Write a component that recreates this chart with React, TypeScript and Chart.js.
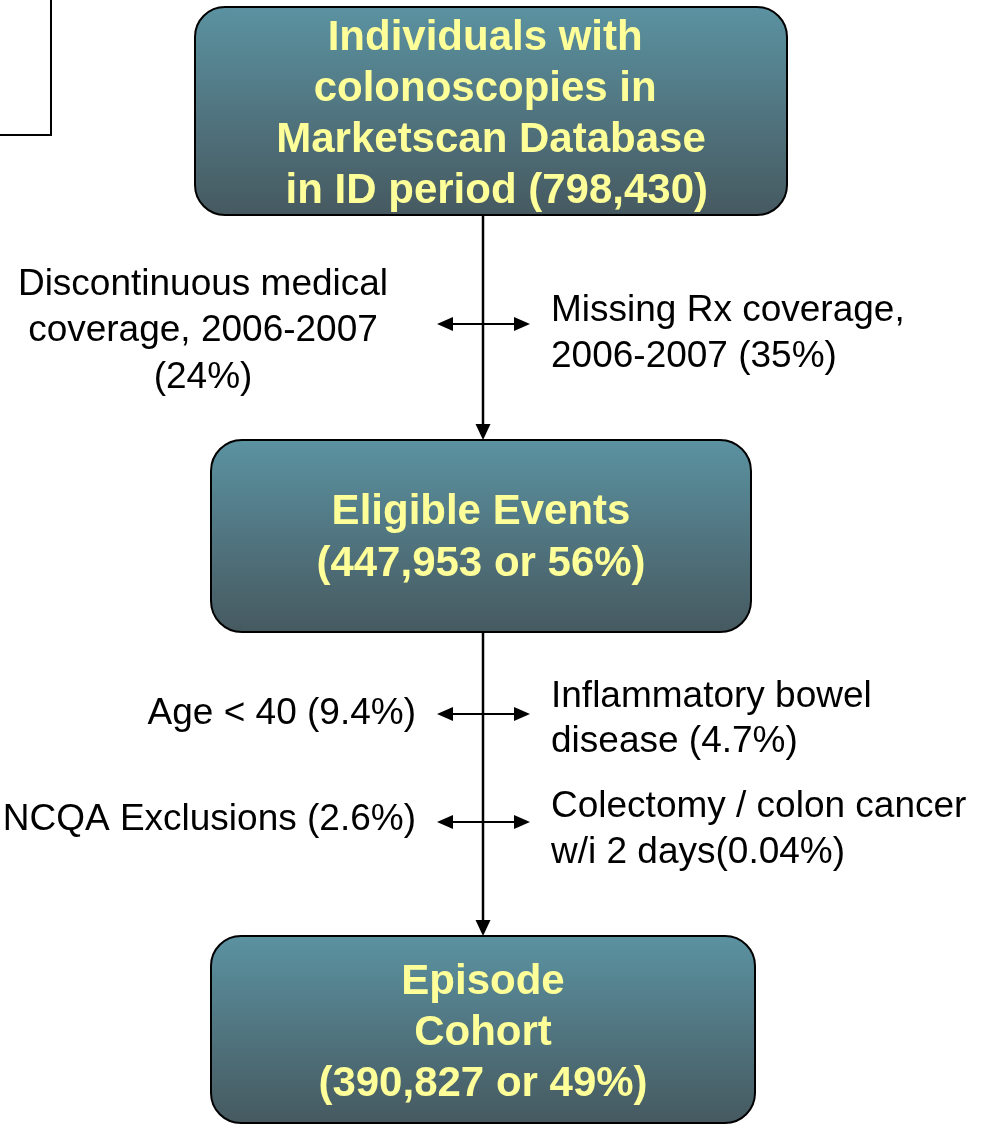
import React, { useEffect, useRef } from "react";
import { Chart, registerables } from "chart.js";

Chart.register(...registerables);

// ---- Data ----
const stageCounts = [798430, 447953, 390827];
const stagePercents = [null, 56, 49];
const exclusionNames = [
  "Discontinuous medical coverage, 2006-2007",
  "Missing Rx coverage, 2006-2007",
  "Age < 40",
  "Inflammatory bowel disease",
  "NCQA Exclusions",
  "Colectomy / colon cancer w/i 2 days",
];
const exclusionPercents = ["24%", "35%", "9.4%", "4.7%", "2.6%", "0.04%"];

const fmt = (n: number) => n.toLocaleString("en-US");

// ---- Text lines built from data ----
const stageLines: string[][] = [
  ["Individuals with ", "colonoscopies in ", "Marketscan Database", ` in ID period (${fmt(stageCounts[0])})`],
  ["Eligible Events", `(${fmt(stageCounts[1])} or ${stagePercents[1]}%)`],
  ["Episode", "Cohort", `(${fmt(stageCounts[2])} or ${stagePercents[2]}%)`],
];
const exclusionLines: string[][] = [
  ["Discontinuous medical", "coverage, 2006-2007", `(${exclusionPercents[0]})`],
  ["Missing Rx coverage,", `2006-2007 (${exclusionPercents[1]})`],
  [`${exclusionNames[2]} (${exclusionPercents[2]})`],
  ["Inflammatory bowel", `disease (${exclusionPercents[3]})`],
  [`${exclusionNames[4]} (${exclusionPercents[4]})`],
  ["Colectomy / colon cancer", `w/i 2 days(${exclusionPercents[5]})`],
];

// ---- Layout (chart units) ----
const boxLayout = [
  { x0: 195, x1: 787, y0: 7, y1: 215, r: 30, cx: 491, ys: [38, 89, 140, 191] },
  { x0: 211, x1: 751, y0: 440, y1: 632, r: 31, cx: 481, ys: [512, 564] },
  { x0: 211, x1: 755, y0: 936, y1: 1123, r: 30, cx: 483, ys: [982, 1033, 1084] },
];
const exclusionLayout = [
  { x: 203, align: "center", ys: [285, 331, 378] },
  { x: 551, align: "left", ys: [311, 357] },
  { x: 416, align: "right", ys: [714] },
  { x: 551, align: "left", ys: [697, 742] },
  { x: 416, align: "right", ys: [820] },
  { x: 551, align: "left", ys: [807, 853] },
];
const flowX = 483;
const sideArrows = [324, 714, 822];
const sideArrowSpan = [437, 530];

function arrowHead(ctx: CanvasRenderingContext2D, tx: number, ty: number, dx: number, dy: number, len: number, half: number) {
  const px = -dy, py = dx;
  ctx.beginPath();
  ctx.moveTo(tx, ty);
  ctx.lineTo(tx - dx * len + px * half, ty - dy * len + py * half);
  ctx.lineTo(tx - dx * len - px * half, ty - dy * len - py * half);
  ctx.closePath();
  ctx.fill();
}

function roundRect(ctx: CanvasRenderingContext2D, x0: number, y0: number, x1: number, y1: number, r: number) {
  ctx.beginPath();
  ctx.moveTo(x0 + r, y0);
  ctx.lineTo(x1 - r, y0);
  ctx.arcTo(x1, y0, x1, y0 + r, r);
  ctx.lineTo(x1, y1 - r);
  ctx.arcTo(x1, y1, x1 - r, y1, r);
  ctx.lineTo(x0 + r, y1);
  ctx.arcTo(x0, y1, x0, y1 - r, r);
  ctx.lineTo(x0, y0 + r);
  ctx.arcTo(x0, y0, x0 + r, y0, r);
  ctx.closePath();
}

const flowPlugin = {
  id: "flow",
  afterDraw(chart: any) {
    const ctx: CanvasRenderingContext2D = chart.ctx;
    const sx = (v: number) => chart.scales.x.getPixelForValue(v);
    const sy = (v: number) => chart.scales.y.getPixelForValue(v);
    ctx.save();

    // partial frame at top-left
    ctx.strokeStyle = "#000";
    ctx.lineWidth = 2;
    ctx.beginPath();
    ctx.moveTo(sx(51), sy(0));
    ctx.lineTo(sx(51), sy(135));
    ctx.lineTo(sx(0), sy(135));
    ctx.stroke();

    // vertical connectors
    ctx.fillStyle = "#000";
    ctx.lineWidth = 2.5;
    for (let i = 0; i < boxLayout.length - 1; i++) {
      const a = boxLayout[i], b = boxLayout[i + 1];
      ctx.beginPath();
      ctx.moveTo(sx(flowX), sy(a.y1));
      ctx.lineTo(sx(flowX), sy(b.y0) - 12);
      ctx.stroke();
      arrowHead(ctx, sx(flowX), sy(b.y0), 0, 1, 16, 7.5);
    }

    // side double arrows
    ctx.lineWidth = 2;
    for (const y of sideArrows) {
      const xa = sx(sideArrowSpan[0]), xb = sx(sideArrowSpan[1]), yy = sy(y);
      ctx.beginPath();
      ctx.moveTo(xa + 10, yy);
      ctx.lineTo(xb - 10, yy);
      ctx.stroke();
      arrowHead(ctx, xa, yy, -1, 0, 16, 7);
      arrowHead(ctx, xb, yy, 1, 0, 16, 7);
    }

    // boxes
    boxLayout.forEach((b, i) => {
      const x0 = sx(b.x0), x1 = sx(b.x1), y0 = sy(b.y0), y1 = sy(b.y1);
      const g = ctx.createLinearGradient(0, y0, 0, y1);
      g.addColorStop(0, "#5B92A1");
      g.addColorStop(1, "#465960");
      roundRect(ctx, x0, y0, x1, y1, b.r);
      ctx.fillStyle = g;
      ctx.fill();
      ctx.lineWidth = 2;
      ctx.strokeStyle = "#000";
      ctx.stroke();
      ctx.fillStyle = "#FFFF99";
      ctx.font = "bold 42px 'Liberation Sans', Arial, sans-serif";
      ctx.textAlign = "center";
      ctx.textBaseline = "middle";
      stageLines[i].forEach((t, j) => ctx.fillText(t, sx(b.cx), sy(b.ys[j])));
    });

    // exclusion texts
    ctx.fillStyle = "#000";
    ctx.font = "37px 'Liberation Sans', Arial, sans-serif";
    ctx.textBaseline = "middle";
    exclusionLayout.forEach((e, i) => {
      ctx.textAlign = e.align as CanvasTextAlign;
      exclusionLines[i].forEach((t, j) => ctx.fillText(t, sx(e.x), sy(e.ys[j])));
    });

    ctx.restore();
  },
};

export default function App() {
  const ref = useRef<HTMLCanvasElement>(null);
  useEffect(() => {
    if (!ref.current) return;
    const chart = new Chart(ref.current, {
      type: "scatter",
      data: { datasets: [{ data: [], pointRadius: 0 }] },
      options: {
        animation: false,
        responsive: false,
        devicePixelRatio: 1,
        layout: { padding: 0 },
        plugins: { legend: { display: false }, tooltip: { enabled: false } },
        scales: {
          x: { type: "linear", min: 0, max: 987, display: false },
          y: { type: "linear", min: 0, max: 1124, reverse: true, display: false },
        },
      },
      plugins: [flowPlugin],
    });
    return () => chart.destroy();
  }, []);
  return (
    <div style={{ position: "fixed", left: 0, top: 0, width: 987, height: 1124, background: "#fff" }}>
      <canvas ref={ref} width={987} height={1124} style={{ display: "block" }} />
    </div>
  );
}
